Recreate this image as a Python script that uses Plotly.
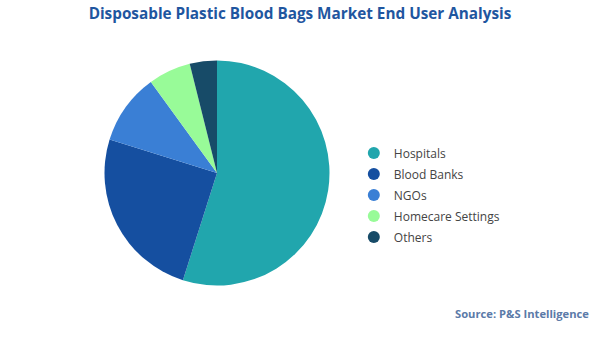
import plotly.graph_objects as go

labels = ["Hospitals", "Blood Banks", "NGOs", "Homecare Settings", "Others"]
values = [54.9, 24.9, 10.2, 6.1, 3.9]
colors = ["#21A6AD", "#154FA0", "#3A7FD5", "#98FB98", "#174B68"]

title_text = "Disposable Plastic Blood Bags Market End User Analysis"
source_text = "Source: P&S Intelligence"

W, H = 600, 337
fig = go.Figure()
fig.add_trace(go.Pie(
    labels=labels, values=values, sort=False, direction="clockwise", rotation=0,
    marker=dict(colors=colors, line=dict(width=0)),
    textinfo="none", hoverinfo="label+percent", showlegend=False,
    domain=dict(x=[217/W - 112.5/W, 217/W + 112.5/W], y=[1 - 285.5/H, 1 - 60.5/H]),
))
for lab, col in zip(labels, colors):
    fig.add_trace(go.Scatter(x=[None], y=[None], mode="markers", name=lab, legendgroup=lab,
                             marker=dict(symbol="circle", size=10, color=col)))

fig.update_layout(
    width=W, height=H,
    margin=dict(l=0, r=0, t=0, b=0),
    paper_bgcolor="white", plot_bgcolor="white",
    title=dict(text="<b>" + title_text + "</b>", x=0.5, xanchor="center", y=1 - 14/H, yanchor="middle",
               font=dict(family="Open Sans, sans-serif", size=15.3, color="#1F56A0")),
    xaxis=dict(visible=False), yaxis=dict(visible=False),
    legend=dict(x=0.5897, xanchor="left", y=1 - 195/H, yanchor="middle",
                font=dict(family="Open Sans, sans-serif", size=12, color="#444444"),
                tracegroupgap=2, itemsizing="constant", bgcolor="rgba(0,0,0,0)"),
    annotations=[dict(text="<b>" + source_text + "</b>", xref="paper", yref="paper",
                      x=591/W, xanchor="right", y=1 - 313/H, yanchor="middle", showarrow=False,
                      font=dict(family="Open Sans, sans-serif", size=11.2, color="#5B7AA8"))],
)
fig.write_html("out.html")
